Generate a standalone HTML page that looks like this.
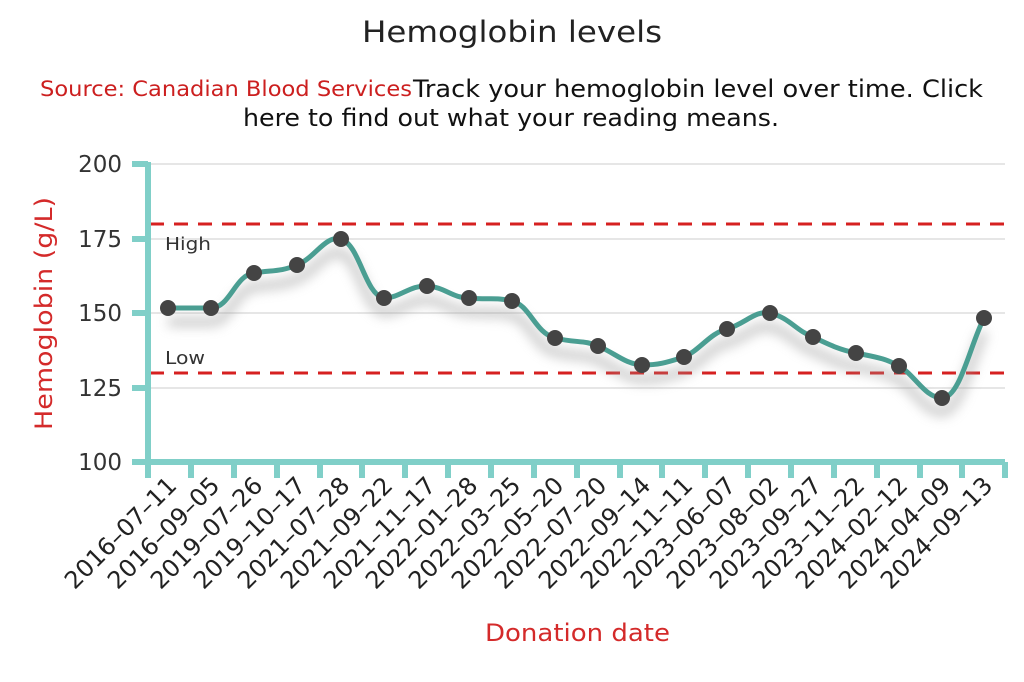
<!DOCTYPE html>
<html><head><meta charset="utf-8"><style>
html,body{margin:0;padding:0;background:#fff;}
svg{display:block;font-family:"DejaVu Sans","Liberation Sans",sans-serif;}
</style></head><body>
<svg width="1024" height="682" viewBox="0 0 1024 682" xmlns="http://www.w3.org/2000/svg">
<defs><filter id="sh" x="-10%" y="-20%" width="120%" height="160%"><feGaussianBlur stdDeviation="6"/></filter></defs>
<text x="362" y="42" font-size="29" fill="#222" textLength="300" lengthAdjust="spacingAndGlyphs">Hemoglobin levels</text>
<text x="40" y="96" font-size="21" fill="#cc1f1f" textLength="372" lengthAdjust="spacingAndGlyphs">Source: Canadian Blood Services</text>
<text x="413" y="97" font-size="24" fill="#111" textLength="570" lengthAdjust="spacingAndGlyphs">Track your hemoglobin level over time. Click</text>
<text x="243" y="126" font-size="24" fill="#111" textLength="536" lengthAdjust="spacingAndGlyphs">here to find out what your reading means.</text>
<g stroke="#ddd" stroke-width="1.5">
<line x1="150" y1="164" x2="1005" y2="164"/><line x1="150" y1="239" x2="1005" y2="239"/>
<line x1="150" y1="313" x2="1005" y2="313"/><line x1="150" y1="388" x2="1005" y2="388"/>
</g>
<g font-size="23" fill="#333" text-anchor="end">
<text x="122" y="172">200</text><text x="122" y="247">175</text><text x="122" y="321">150</text><text x="122" y="396">125</text><text x="122" y="470">100</text>
</g>
<text transform="translate(52,430) rotate(-90)" font-size="24" fill="#d42a2a" textLength="233" lengthAdjust="spacingAndGlyphs">Hemoglobin (g/L)</text>
<line x1="150" y1="224" x2="1005" y2="224" stroke="#d62020" stroke-width="3" stroke-dasharray="14,10"/>
<line x1="150" y1="373" x2="1005" y2="373" stroke="#d62020" stroke-width="3" stroke-dasharray="14,10"/>
<text x="165" y="250" font-size="18" fill="#333" textLength="46" lengthAdjust="spacingAndGlyphs">High</text>
<text x="165" y="364" font-size="18" fill="#333" textLength="40" lengthAdjust="spacingAndGlyphs">Low</text>
<path d="M168,308 C190,308 195,308 211,308 C230,308 235,275 254,273 C272,270 280,272 297,265 C315,258 325,235 341,239 C360,245 365,295 384,298 C400,298 410,285 427,286 C445,287 452,298 469,298 C490,300 495,297 512,301 C530,305 535,333 555,338 C575,343 585,340 598,346 C615,353 625,364 642,365 C660,365 668,362 684,357 C700,350 710,333 727,329 C745,324 755,310 770,313 C790,318 795,330 813,337 C830,345 840,350 856,353 C875,357 885,358 899,366 C915,375 925,398 942,398 C960,398 970,345 984,318" fill="none" stroke="#999" stroke-width="8" opacity="0.6" filter="url(#sh)" transform="translate(0,14)"/>
<path d="M168,308 C190,308 195,308 211,308 C230,308 235,275 254,273 C272,270 280,272 297,265 C315,258 325,235 341,239 C360,245 365,295 384,298 C400,298 410,285 427,286 C445,287 452,298 469,298 C490,300 495,297 512,301 C530,305 535,333 555,338 C575,343 585,340 598,346 C615,353 625,364 642,365 C660,365 668,362 684,357 C700,350 710,333 727,329 C745,324 755,310 770,313 C790,318 795,330 813,337 C830,345 840,350 856,353 C875,357 885,358 899,366 C915,375 925,398 942,398 C960,398 970,345 984,318" fill="none" stroke="#4a9e92" stroke-width="5"/>
<g fill="#444">
<circle cx="168" cy="308" r="8"/><circle cx="211" cy="308" r="8"/><circle cx="254" cy="273" r="8"/><circle cx="297" cy="265" r="8"/><circle cx="341" cy="239" r="8"/><circle cx="384" cy="298" r="8"/><circle cx="427" cy="286" r="8"/><circle cx="469" cy="298" r="8"/><circle cx="512" cy="301" r="8"/><circle cx="555" cy="338" r="8"/><circle cx="598" cy="346" r="8"/><circle cx="642" cy="365" r="8"/><circle cx="684" cy="357" r="8"/><circle cx="727" cy="329" r="8"/><circle cx="770" cy="313" r="8"/><circle cx="813" cy="337" r="8"/><circle cx="856" cy="353" r="8"/><circle cx="899" cy="366" r="8"/><circle cx="942" cy="398" r="8"/><circle cx="984" cy="318" r="8"/>
</g>
<g stroke="#80cfc8">
<line x1="148" y1="162" x2="148" y2="478" stroke-width="6"/>
<line x1="148" y1="462" x2="1005" y2="462" stroke-width="6"/>
<g stroke-width="6"><line x1="132" y1="164" x2="148" y2="164"/><line x1="132" y1="239" x2="148" y2="239"/><line x1="132" y1="313" x2="148" y2="313"/><line x1="132" y1="388" x2="148" y2="388"/><line x1="132" y1="462" x2="148" y2="462"/></g>
<g stroke-width="6">
<line x1="191" y1="462" x2="191" y2="478"/><line x1="234" y1="462" x2="234" y2="478"/><line x1="277" y1="462" x2="277" y2="478"/><line x1="320" y1="462" x2="320" y2="478"/><line x1="362" y1="462" x2="362" y2="478"/><line x1="405" y1="462" x2="405" y2="478"/><line x1="448" y1="462" x2="448" y2="478"/><line x1="491" y1="462" x2="491" y2="478"/><line x1="534" y1="462" x2="534" y2="478"/><line x1="577" y1="462" x2="577" y2="478"/><line x1="620" y1="462" x2="620" y2="478"/><line x1="662" y1="462" x2="662" y2="478"/><line x1="705" y1="462" x2="705" y2="478"/><line x1="748" y1="462" x2="748" y2="478"/><line x1="791" y1="462" x2="791" y2="478"/><line x1="834" y1="462" x2="834" y2="478"/><line x1="877" y1="462" x2="877" y2="478"/><line x1="920" y1="462" x2="920" y2="478"/><line x1="962" y1="462" x2="962" y2="478"/><line x1="1005" y1="462" x2="1005" y2="478"/>
</g></g>
<g font-size="24" fill="#222" text-anchor="end">
<text transform="translate(178,487) rotate(-45)">2016–07–11</text>
<text transform="translate(221,487) rotate(-45)">2016–09–05</text>
<text transform="translate(264,487) rotate(-45)">2019–07–26</text>
<text transform="translate(307,487) rotate(-45)">2019–10–17</text>
<text transform="translate(351,487) rotate(-45)">2021–07–28</text>
<text transform="translate(394,487) rotate(-45)">2021–09–22</text>
<text transform="translate(437,487) rotate(-45)">2021–11–17</text>
<text transform="translate(479,487) rotate(-45)">2022–01–28</text>
<text transform="translate(522,487) rotate(-45)">2022–03–25</text>
<text transform="translate(565,487) rotate(-45)">2022–05–20</text>
<text transform="translate(608,487) rotate(-45)">2022–07–20</text>
<text transform="translate(652,487) rotate(-45)">2022–09–14</text>
<text transform="translate(694,487) rotate(-45)">2022–11–11</text>
<text transform="translate(737,487) rotate(-45)">2023–06–07</text>
<text transform="translate(780,487) rotate(-45)">2023–08–02</text>
<text transform="translate(823,487) rotate(-45)">2023–09–27</text>
<text transform="translate(866,487) rotate(-45)">2023–11–22</text>
<text transform="translate(909,487) rotate(-45)">2024–02–12</text>
<text transform="translate(952,487) rotate(-45)">2024–04–09</text>
<text transform="translate(994,487) rotate(-45)">2024–09–13</text>
</g>
<text x="485" y="641" font-size="24" fill="#d42a2a" textLength="185" lengthAdjust="spacingAndGlyphs">Donation date</text>
</svg>
</body></html>
